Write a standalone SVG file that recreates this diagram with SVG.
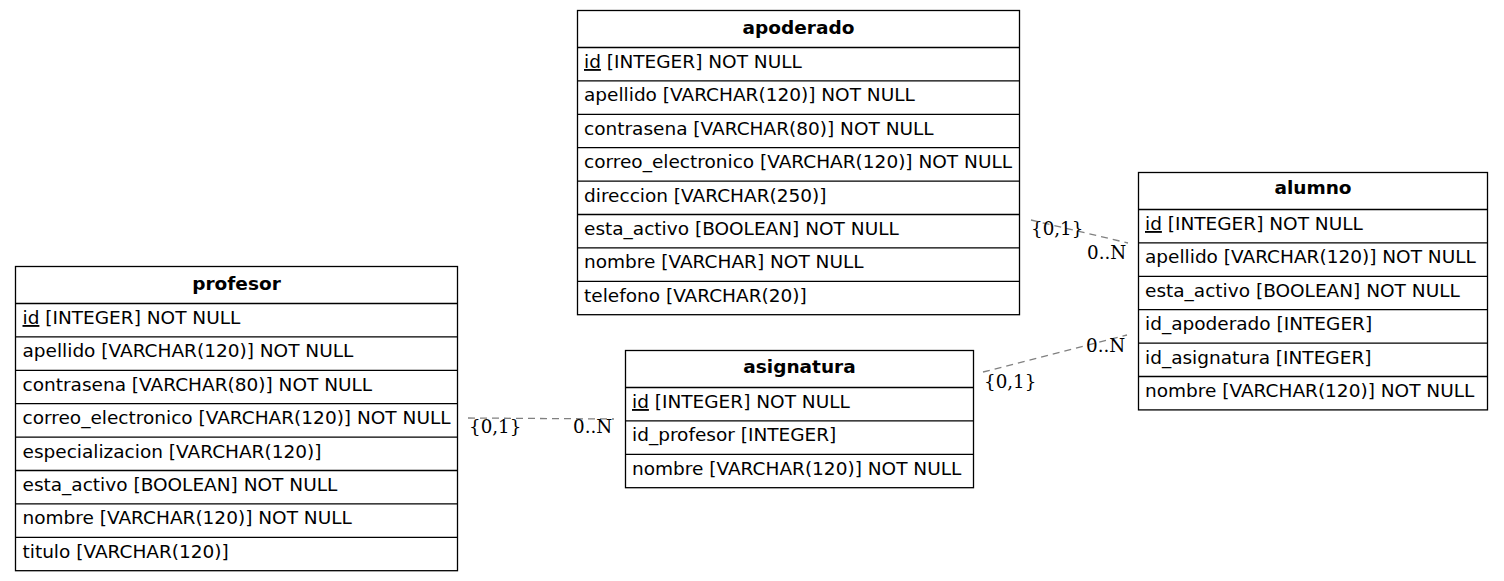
<svg xmlns="http://www.w3.org/2000/svg" width="1504" height="581" viewBox="0 0 1504 581">
<style>
.box{fill:#fff;stroke:#000;stroke-width:1.3}
.sep{fill:none;stroke:#000;stroke-width:1.3}
.title{font-family:"DejaVu Sans",sans-serif;font-weight:bold;font-size:18.5px;text-anchor:middle;fill:#000}
.row{font-family:"DejaVu Sans",sans-serif;font-size:18.5px;fill:#000}
.pk{text-decoration:underline}
.edge{fill:none;stroke:#808080;stroke-width:1.3;stroke-dasharray:7,5}
.lbl{font-family:"DejaVu Serif",serif;font-size:18.3px;fill:#000}
</style>
<rect width="1504" height="581" fill="#fff"/>
<g id="connectors">
<line class="edge" x1="1031" y1="220" x2="1128" y2="243"/>
<line class="edge" x1="983" y1="372" x2="1127" y2="335"/>
<line class="edge" x1="468" y1="418" x2="614" y2="419"/>
<text class="lbl" x="1031" y="235">{0,1}</text>
<text class="lbl" x="1087" y="259">0..N</text>
<text class="lbl" x="984" y="388">{0,1}</text>
<text class="lbl" x="1086" y="352">0..N</text>
<text class="lbl" x="469" y="433">{0,1}</text>
<text class="lbl" x="573" y="433">0..N</text>
</g>
<g id="apoderado">
<rect class="box" x="577.5" y="10.5" width="442" height="304.2"/>
<path class="sep" d="M577.5 47.5H1019.5M577.5 80.9H1019.5M577.5 114.3H1019.5M577.5 147.7H1019.5M577.5 181.1H1019.5M577.5 214.5H1019.5M577.5 247.9H1019.5M577.5 281.3H1019.5"/>
<text class="title" x="798.5" y="34">apoderado</text>
<text class="row" x="584" y="68"><tspan class="pk">id</tspan> [INTEGER] NOT NULL</text>
<text class="row" x="584" y="101.4">apellido [VARCHAR(120)] NOT NULL</text>
<text class="row" x="584" y="134.8">contrasena [VARCHAR(80)] NOT NULL</text>
<text class="row" x="584" y="168.2">correo_electronico [VARCHAR(120)] NOT NULL</text>
<text class="row" x="584" y="201.6">direccion [VARCHAR(250)]</text>
<text class="row" x="584" y="235">esta_activo [BOOLEAN] NOT NULL</text>
<text class="row" x="584" y="268.4">nombre [VARCHAR] NOT NULL</text>
<text class="row" x="584" y="301.8">telefono [VARCHAR(20)]</text>
</g>
<g id="profesor">
<rect class="box" x="15.5" y="266.5" width="442" height="304.2"/>
<path class="sep" d="M15.5 303.5H457.5M15.5 336.9H457.5M15.5 370.3H457.5M15.5 403.7H457.5M15.5 437.1H457.5M15.5 470.5H457.5M15.5 503.9H457.5M15.5 537.3H457.5"/>
<text class="title" x="236.5" y="290">profesor</text>
<text class="row" x="22.5" y="324"><tspan class="pk">id</tspan> [INTEGER] NOT NULL</text>
<text class="row" x="22.5" y="357.4">apellido [VARCHAR(120)] NOT NULL</text>
<text class="row" x="22.5" y="390.8">contrasena [VARCHAR(80)] NOT NULL</text>
<text class="row" x="22.5" y="424.2">correo_electronico [VARCHAR(120)] NOT NULL</text>
<text class="row" x="22.5" y="457.6">especializacion [VARCHAR(120)]</text>
<text class="row" x="22.5" y="491">esta_activo [BOOLEAN] NOT NULL</text>
<text class="row" x="22.5" y="524.4">nombre [VARCHAR(120)] NOT NULL</text>
<text class="row" x="22.5" y="557.8">titulo [VARCHAR(120)]</text>
</g>
<g id="asignatura">
<rect class="box" x="625.5" y="350.5" width="348" height="137.2"/>
<path class="sep" d="M625.5 387.5H973.5M625.5 420.9H973.5M625.5 454.3H973.5"/>
<text class="title" x="799.5" y="373">asignatura</text>
<text class="row" x="632" y="408"><tspan class="pk">id</tspan> [INTEGER] NOT NULL</text>
<text class="row" x="632" y="441.4">id_profesor [INTEGER]</text>
<text class="row" x="632" y="474.8">nombre [VARCHAR(120)] NOT NULL</text>
</g>
<g id="alumno">
<rect class="box" x="1138.5" y="172.5" width="349" height="237.4"/>
<path class="sep" d="M1138.5 209.5H1487.5M1138.5 242.9H1487.5M1138.5 276.3H1487.5M1138.5 309.7H1487.5M1138.5 343.1H1487.5M1138.5 376.5H1487.5"/>
<text class="title" x="1313" y="194">alumno</text>
<text class="row" x="1145" y="230"><tspan class="pk">id</tspan> [INTEGER] NOT NULL</text>
<text class="row" x="1145" y="263.4">apellido [VARCHAR(120)] NOT NULL</text>
<text class="row" x="1145" y="296.8">esta_activo [BOOLEAN] NOT NULL</text>
<text class="row" x="1145" y="330.2">id_apoderado [INTEGER]</text>
<text class="row" x="1145" y="363.6">id_asignatura [INTEGER]</text>
<text class="row" x="1145" y="397">nombre [VARCHAR(120)] NOT NULL</text>
</g>
</svg>
